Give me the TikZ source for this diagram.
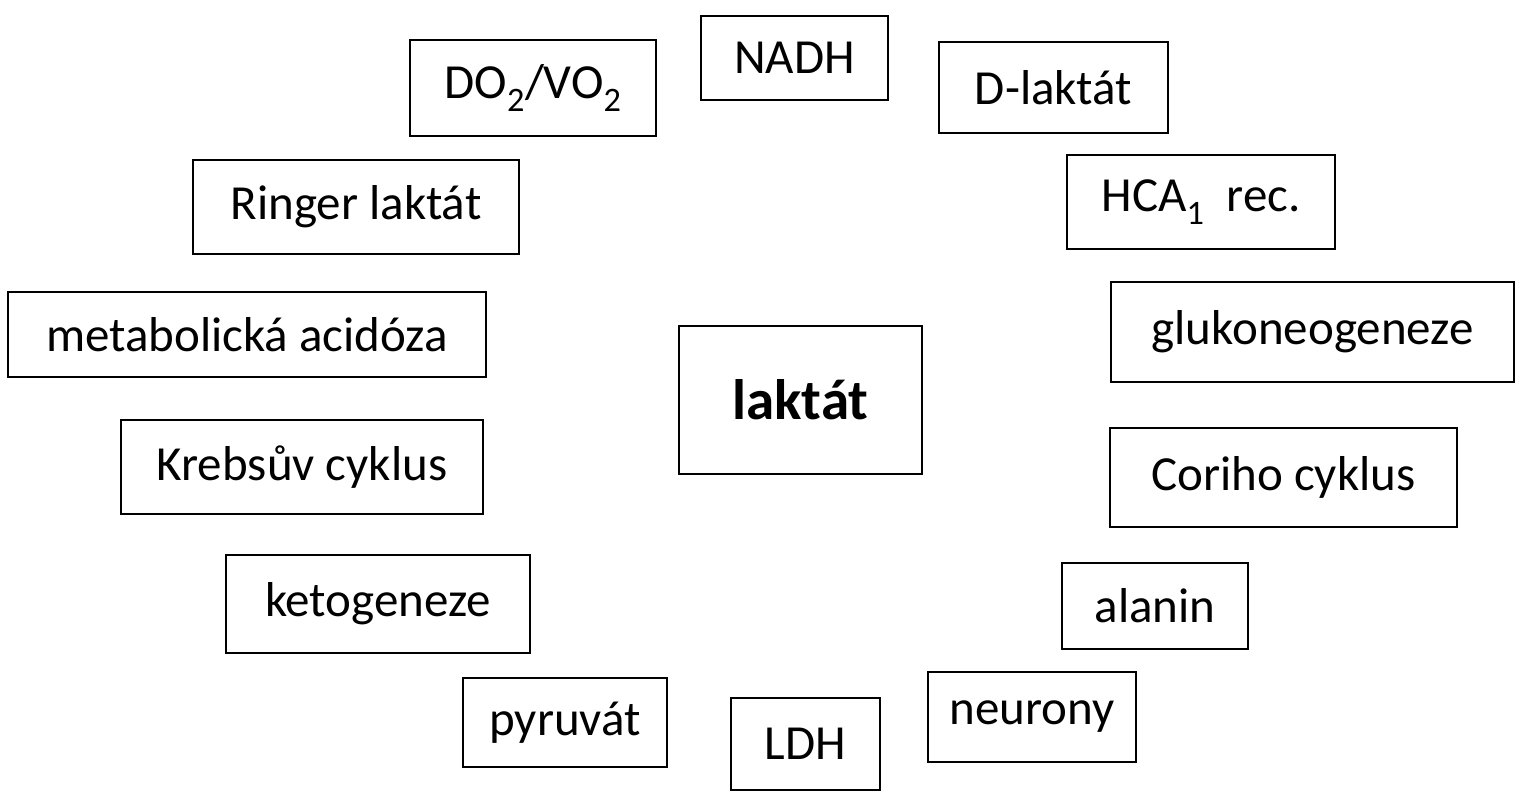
\documentclass[tikz,border=0pt]{standalone}
\usepackage{fontspec}
\setmainfont{Carlito}
\begin{document}
\begin{tikzpicture}[x=1pt,y=-1pt,
  bx/.style={draw=black,line width=1.6pt,font=\fontsize{49}{54}\selectfont,inner sep=0pt,anchor=center}]
\useasboundingbox (0,0) rectangle (1523,800);
\newcommand{\bbox}[6]{\node[bx,minimum width=#4-#2,minimum height=#5-#3] (#1) at ({(#2+#4)/2},{(#3+#5)/2}) {#6};}
\newcommand{\sbs}[1]{\textsubscript{#1}}
\bbox{nadh}{701}{16}{888}{100}{NADH}
\bbox{do}{410}{40}{656}{136}{DO\sbs{2}/VO\sbs{2}}
\bbox{dl}{939}{42}{1168}{133}{D-laktát}
\bbox{rl}{193}{160}{519}{254}{Ringer laktát}
\bbox{hca}{1067}{155}{1335}{249}{HCA\sbs{1}\ \ rec.}
\bbox{ma}{8}{292}{486}{377}{metabolická acidóza}
\bbox{gl}{1111}{282}{1514}{382}{glukoneogeneze}
\bbox{la}{679}{326}{922}{474}{\fontsize{57}{60}\selectfont\bfseries laktát}
\bbox{kc}{121}{420}{483}{514}{Krebsův cyklus}
\bbox{cc}{1110}{428}{1457}{527}{Coriho cyklus}
\bbox{kg}{226}{555}{530}{653}{ketogeneze}
\bbox{al}{1062}{563}{1248}{649}{alanin}
\bbox{py}{463}{678}{667}{767}{pyruvát}
\bbox{ldh}{731}{698}{880}{790}{LDH}
\bbox{ne}{928}{672}{1136}{762}{neurony}
\end{tikzpicture}
\end{document}
